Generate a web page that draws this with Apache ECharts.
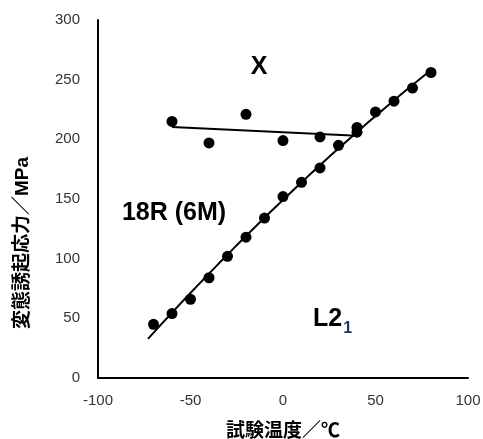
<!DOCTYPE html>
<html>
<head>
<meta charset="utf-8">
<script src="https://cdn.jsdelivr.net/npm/echarts@6/dist/echarts.min.js"></script>
<style>
html,body{margin:0;padding:0;background:#fff;overflow:hidden;}
#chart{width:483px;height:439px;}
</style>
</head>
<body>
<div id="chart"></div>
<script>
// Data
const xTicks = [-100, -50, 0, 50, 100];
const yTicks = [0, 50, 100, 150, 200, 250, 300];

const phaseXTemps = [-60, -40, -20, 0, 20, 40];
const phaseXStress = [215, 197, 221, 199, 202, 206];

const l21Temps = [-70, -60, -50, -40, -30, -20, -10, 0, 10, 20, 30, 40, 50, 60, 70, 80];
const l21Stress = [45, 54, 66, 84, 102, 118, 134, 152, 164, 176, 195, 210, 223, 232, 243, 256];

// Trendline ranges (linear for X, 2nd-order polynomial with backward forecast for L2_1)
const trendXRange = [-60, 40];
const trendL21Range = [-73, 80];

const xAxisTitle = '試験温度／℃';
const yAxisTitle = '変態誘起応力／MPa';

const zip = (a, b) => a.map((v, i) => [v, b[i]]);

// least-squares linear trendline
function linearTrend(xs, ys, range) {
  const n = xs.length;
  const mx = xs.reduce((s, v) => s + v, 0) / n;
  const my = ys.reduce((s, v) => s + v, 0) / n;
  let sxy = 0, sxx = 0;
  xs.forEach((x, i) => { sxy += (x - mx) * (ys[i] - my); sxx += (x - mx) * (x - mx); });
  const b = sxy / sxx;
  return range.map(x => [x, my + b * (x - mx)]);
}
// least-squares quadratic trendline
function quadTrend(xs, ys, range, steps) {
  let s = [0, 0, 0, 0, 0], t = [0, 0, 0];
  xs.forEach((x, i) => {
    for (let k = 0; k <= 4; k++) s[k] += Math.pow(x, k);
    for (let k = 0; k <= 2; k++) t[k] += Math.pow(x, k) * ys[i];
  });
  const M = [[s[0], s[1], s[2], t[0]], [s[1], s[2], s[3], t[1]], [s[2], s[3], s[4], t[2]]];
  for (let c = 0; c < 3; c++) {
    for (let r = c + 1; r < 3; r++) {
      const f = M[r][c] / M[c][c];
      for (let k = c; k < 4; k++) M[r][k] -= f * M[c][k];
    }
  }
  const co = [0, 0, 0];
  for (let r = 2; r >= 0; r--) {
    let v = M[r][3];
    for (let k = r + 1; k < 3; k++) v -= M[r][k] * co[k];
    co[r] = v / M[r][r];
  }
  const out = [];
  for (let i = 0; i <= steps; i++) {
    const x = range[0] + (range[1] - range[0]) * i / steps;
    out.push([x, co[0] + co[1] * x + co[2] * x * x]);
  }
  return out;
}

const latin = '"Liberation Sans", Arial, sans-serif';
const cjk = '"Liberation Sans", "Noto Sans CJK JP", sans-serif';

const chart = echarts.init(document.getElementById('chart'));
chart.setOption({
  animation: false,
  backgroundColor: '#fff',
  grid: { left: 98, right: 15, top: 20, bottom: 61, containLabel: false, outerBoundsMode: 'none' },
  xAxis: {
    type: 'value',
    min: xTicks[0], max: xTicks[xTicks.length - 1], interval: 50,
    axisLine: { show: true, onZero: false, lineStyle: { color: '#000', width: 2 } },
    axisTick: { show: false },
    splitLine: { show: false },
    axisLabel: { color: '#333', fontSize: 15, fontFamily: latin, margin: 15 },
    name: xAxisTitle,
    nameLocation: 'middle',
    nameGap: 44,
    nameTextStyle: { color: '#000', fontSize: 19, fontWeight: 'bold', fontFamily: cjk }
  },
  yAxis: {
    type: 'value',
    min: yTicks[0], max: yTicks[yTicks.length - 1], interval: 50,
    axisLine: { show: true, onZero: false, lineStyle: { color: '#000', width: 2 } },
    axisTick: { show: false },
    splitLine: { show: false },
    axisLabel: { color: '#333', fontSize: 15, fontFamily: latin, margin: 18 }
  },
  graphic: [
    {
      type: 'text',
      x: 23, y: 243,
      rotation: Math.PI / 2,
      style: {
        text: yAxisTitle,
        font: 'bold 19px "Liberation Sans", "Noto Sans CJK JP", sans-serif',
        fill: '#000',
        textAlign: 'center',
        textVerticalAlign: 'middle'
      }
    },
    {
      type: 'text', x: 259, y: 67,
      style: { text: 'X', font: 'bold 25px "Liberation Sans", Arial, sans-serif', fill: '#000',
               textAlign: 'center', textVerticalAlign: 'middle' }
    },
    {
      type: 'text', x: 174, y: 213,
      style: { text: '18R (6M)', font: 'bold 25px "Liberation Sans", Arial, sans-serif', fill: '#000',
               textAlign: 'center', textVerticalAlign: 'middle' }
    },
    {
      type: 'text', x: 313, y: 307,
      style: {
        text: '{a|L2}{b|1}',
        rich: {
          a: { fontSize: 25, fontWeight: 'bold', fontFamily: latin, fill: '#000', verticalAlign: 'top', lineHeight: 26 },
          b: { fontSize: 16, fontWeight: 'bold', fontFamily: latin, fill: '#1f3864', padding: [14, 0, 0, 1], verticalAlign: 'top', lineHeight: 26 }
        }
      }
    }
  ],
  series: [
    {
      type: 'line', data: linearTrend(phaseXTemps, phaseXStress, trendXRange), symbol: 'none',
      lineStyle: { color: '#000', width: 2 }, silent: true, z: 1
    },
    {
      type: 'line', data: quadTrend(l21Temps, l21Stress, trendL21Range, 40), symbol: 'none',
      lineStyle: { color: '#000', width: 2 }, silent: true, z: 1
    },
    {
      type: 'scatter', data: zip(phaseXTemps, phaseXStress), symbol: 'circle', symbolSize: 11,
      itemStyle: { color: '#000', opacity: 1 }, z: 3
    },
    {
      type: 'scatter', data: zip(l21Temps, l21Stress), symbol: 'circle', symbolSize: 11,
      itemStyle: { color: '#000', opacity: 1 }, z: 3
    }
  ]
});
</script>
</body>
</html>
